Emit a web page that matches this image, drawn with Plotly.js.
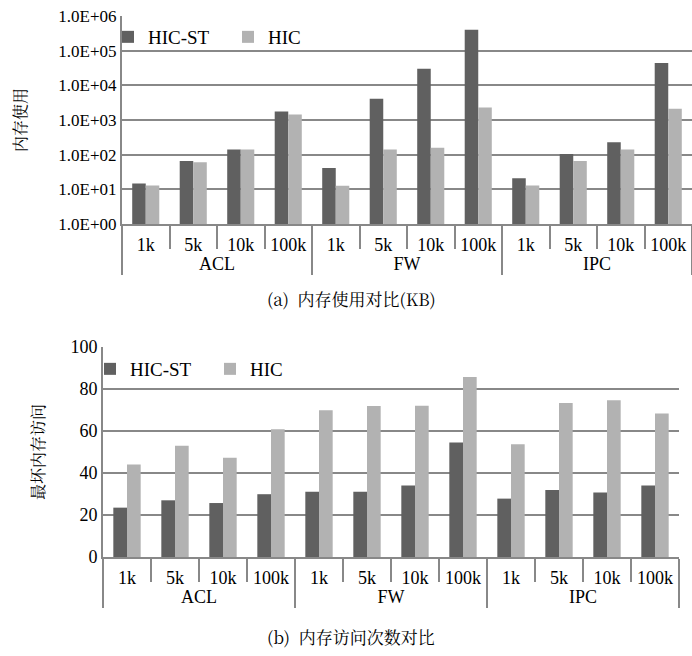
<!DOCTYPE html>
<html><head><meta charset="utf-8">
<script src="https://cdn.plot.ly/plotly-3.0.1.min.js"></script>
<style>html,body{margin:0;padding:0;background:#fff;}#chart{width:692px;height:656px;}</style>
</head><body><div id="chart"></div>
<script>
const groups = ['ACL','ACL','ACL','ACL','FW','FW','FW','FW','IPC','IPC','IPC','IPC'];
const sizes = ['1k','5k','10k','100k','1k','5k','10k','100k','1k','5k','10k','100k'];
const memHICST = [14.8, 66, 142, 1750, 41, 4100, 30000, 400000, 21, 105, 230, 44000];
const memHIC = [13, 60, 142, 1450, 12.7, 142, 158, 2300, 13, 66, 142, 2100];
const accHICST = [23.5, 27, 25.7, 29.9, 31.1, 31.1, 34, 54.5, 27.8, 31.9, 30.7, 34];
const accHIC = [44, 53, 47.3, 60.8, 69.9, 71.9, 72, 85.7, 53.7, 73.3, 74.6, 68.3];
const logTickVals = [1, 10, 100, 1000, 10000, 100000, 1000000];
const logTickText = ['1.0E+00','1.0E+01','1.0E+02','1.0E+03','1.0E+04','1.0E+05','1.0E+06'];
const seriesNames = ['HIC-ST','HIC'];
const captions = ['(a)  内存使用对比(KB)', '(b)  内存访问次数对比'];
const yTitles = ['内存使用', '最坏内存访问'];

const DARK = '#606060', LIGHT = '#b2b2b2', GRID = '#888888';
const FONT = 'Liberation Serif';
const CJK = 'Noto Serif CJK SC';
const xcat = [groups, sizes];

const traces = [
  {type:'bar', x:xcat, y:memHICST, name:seriesNames[0], marker:{color:DARK}, xaxis:'x', yaxis:'y', legend:'legend'},
  {type:'bar', x:xcat, y:memHIC, name:seriesNames[1], marker:{color:LIGHT}, xaxis:'x', yaxis:'y', legend:'legend'},
  {type:'bar', x:xcat, y:accHICST, name:seriesNames[0], marker:{color:DARK}, xaxis:'x2', yaxis:'y2', legend:'legend2'},
  {type:'bar', x:xcat, y:accHIC, name:seriesNames[1], marker:{color:LIGHT}, xaxis:'x2', yaxis:'y2', legend:'legend2'}
];

const xCommon = {
  type:'multicategory', showline:true, linecolor:GRID, linewidth:2,
  ticks:'outside', tickson:'boundaries', ticklen:23, tickcolor:GRID, tickwidth:2,
  showdividers:true, dividercolor:GRID, dividerwidth:2, ticklabelstandoff:3,
  tickfont:{family:FONT, size:18, color:'#000'}, showgrid:false, zeroline:false
};

const layout = {
  width:692, height:656,
  margin:{l:0, r:0, t:0, b:0},
  paper_bgcolor:'#ffffff', plot_bgcolor:'#ffffff',
  font:{family:FONT, color:'#000'},
  barmode:'group', bargap:0.43, bargroupgap:0,
  showlegend:true,
  xaxis: Object.assign({}, xCommon, {domain:[122/692, 1], anchor:'y'}),
  yaxis: {
    type:'log', range:[0, 6], domain:[1-224/656, 1-16/656], anchor:'x',
    tickvals:logTickVals, ticktext:logTickText,
    showgrid:true, gridcolor:GRID, gridwidth:2,
    showline:true, linecolor:GRID, linewidth:2, ticks:'',
    tickfont:{family:FONT, size:17, color:'#000'},
    title:{text:yTitles[0], font:{family:CJK, size:16, color:'#000'}, standoff:28}
  },
  xaxis2: Object.assign({}, xCommon, {domain:[103/692, 679/692], anchor:'y2'}),
  yaxis2: {
    range:[0, 100], domain:[1-557/656, 1-347/656], anchor:'x2',
    tickvals:[0,20,40,60,80,100],
    showgrid:true, gridcolor:GRID, gridwidth:2,
    showline:true, linecolor:GRID, linewidth:2, ticks:'', zeroline:false,
    tickfont:{family:FONT, size:18, color:'#000'},
    title:{text:yTitles[1], font:{family:CJK, size:16, color:'#000'}, standoff:22}
  },
  legend: {orientation:'h', x:108/692, y:1-18/656, xanchor:'left', yanchor:'top',
    bgcolor:'rgba(255,255,255,0)', font:{family:FONT, size:19, color:'#000'}, itemwidth:30,
    entrywidth:75, traceorder:'normal', itemclick:false},
  legend2: {orientation:'h', x:90/692, y:1-350/656, xanchor:'left', yanchor:'top',
    bgcolor:'rgba(255,255,255,0)', font:{family:FONT, size:19, color:'#000'}, itemwidth:30,
    entrywidth:75, traceorder:'normal', itemclick:false},
  annotations: [
    {text:captions[0], xref:'paper', yref:'paper', x:351/692, y:1-298/656, showarrow:false,
     xanchor:'center', yanchor:'middle', font:{family:CJK, size:17, color:'#000'}},
    {text:captions[1], xref:'paper', yref:'paper', x:351/692, y:1-636/656, showarrow:false,
     xanchor:'center', yanchor:'middle', font:{family:CJK, size:17, color:'#000'}}
  ]
};

Plotly.newPlot('chart', traces, layout, {displayModeBar:false, staticPlot:true});
</script></body></html>
